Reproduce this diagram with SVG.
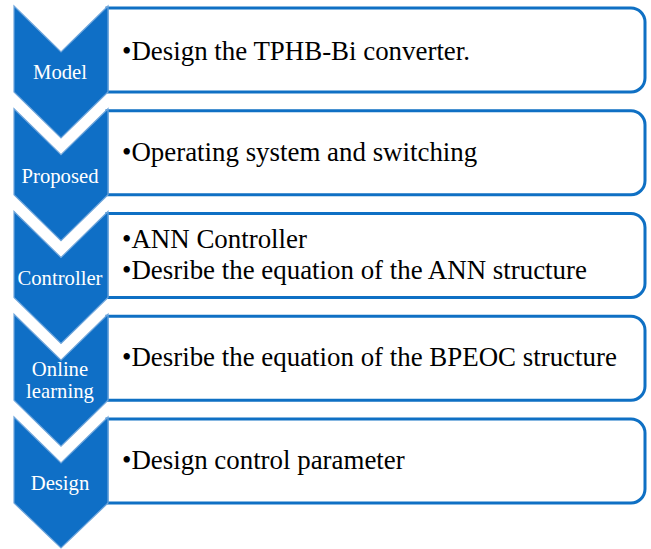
<svg xmlns="http://www.w3.org/2000/svg" width="651" height="549" viewBox="0 0 651 549">
<style>
.box{fill:#fff;stroke:#0F70C4;stroke-width:3}
.chev{fill:#0F6FC6;stroke:#6FA6DC;stroke-width:1.2;stroke-linejoin:miter}
.lbl{font-family:"Liberation Serif","Times New Roman",serif;font-size:20.7px;fill:#fff;text-anchor:middle}
.txt{font-family:"Liberation Serif","Times New Roman",serif;font-size:26.9px;fill:#000}
</style>
<rect width="651" height="549" fill="#fff"/>
<g id="step1">
<path class="box" d="M107,8 H631 A14,14 0 0 1 645,22 V78 A14,14 0 0 1 631,92 H107 Z"/>
<path class="chev" d="M14,6 L61,52 L108,6 L108,92 L61,138 L14,92 Z"/>
<text class="lbl" x="60" y="79">Model</text>
<text class="txt" x="122" y="59.5">•Design the TPHB-Bi converter.</text>
</g>
<g id="step2">
<path class="box" d="M107,110.75 H631 A14,14 0 0 1 645,124.75 V180.75 A14,14 0 0 1 631,194.75 H107 Z"/>
<path class="chev" d="M14,108.75 L61,154.75 L108,108.75 L108,194.75 L61,240.75 L14,194.75 Z"/>
<text class="lbl" x="60" y="183">Proposed</text>
<text class="txt" x="122" y="161">•Operating system and switching</text>
</g>
<g id="step3">
<path class="box" d="M107,213.5 H631 A14,14 0 0 1 645,227.5 V283.5 A14,14 0 0 1 631,297.5 H107 Z"/>
<path class="chev" d="M14,211.5 L61,257.5 L108,211.5 L108,297.5 L61,343.5 L14,297.5 Z"/>
<text class="lbl" x="60" y="285">Controller</text>
<text class="txt" x="122" y="248">•ANN Controller</text>
<text class="txt" x="122" y="279">•Desribe the equation of the ANN structure</text>
</g>
<g id="step4">
<path class="box" d="M107,316.25 H631 A14,14 0 0 1 645,330.25 V386.25 A14,14 0 0 1 631,400.25 H107 Z"/>
<path class="chev" d="M14,314.25 L61,360.25 L108,314.25 L108,400.25 L61,446.25 L14,400.25 Z"/>
<text class="lbl" x="60" y="376">Online</text>
<text class="lbl" x="60" y="398">learning</text>
<text class="txt" x="122" y="366">•Desribe the equation of the BPEOC structure</text>
</g>
<g id="step5">
<path class="box" d="M107,419 H631 A14,14 0 0 1 645,433 V489 A14,14 0 0 1 631,503 H107 Z"/>
<path class="chev" d="M14,417 L61,463 L108,417 L108,503 L61,548 L14,503 Z"/>
<text class="lbl" x="60" y="490">Design</text>
<text class="txt" x="122" y="469">•Design control parameter</text>
</g>
<g id="connectors"></g>
</svg>
